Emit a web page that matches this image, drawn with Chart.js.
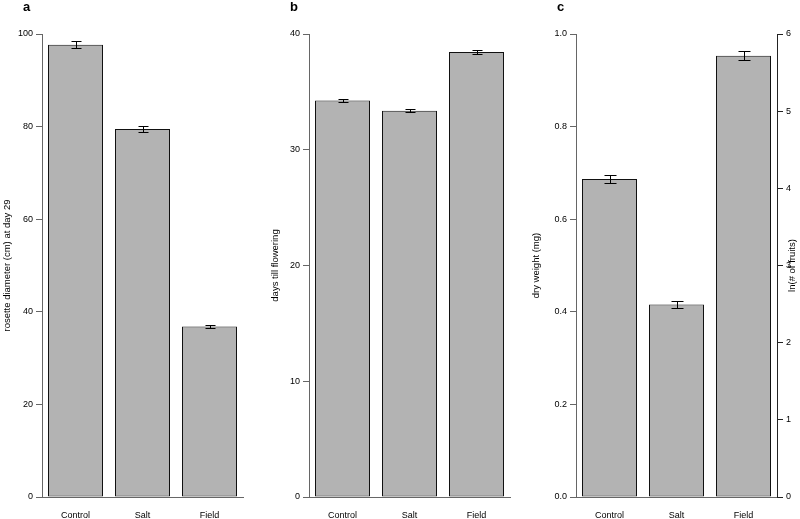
<!DOCTYPE html>
<html>
<head>
<meta charset="utf-8">
<script src="https://cdn.jsdelivr.net/npm/chart.js@4.4.1/dist/chart.umd.min.js"></script>
<style>
  html, body { margin: 0; padding: 0; background: #fff; }
  #wrap { position: relative; width: 800px; height: 519px; }
  #wrap canvas { position: absolute; left: 0; top: 0; }
</style>
</head>
<body>
<div id="wrap">
  <canvas id="panel-a" width="800" height="519"></canvas>
  <canvas id="panel-b" width="800" height="519"></canvas>
  <canvas id="panel-c" width="800" height="519"></canvas>
</div>
<script>
const categories = ['Control', 'Salt', 'Field'];

const rosetteMeans = [97.7, 79.5, 36.8];
const rosetteErr = [0.7, 0.6, 0.4];

const floweringMeans = [34.25, 33.38, 38.45];
const floweringErr = [0.12, 0.1, 0.15];

const dryWeightMeans = [0.687, 0.416, 0.953];
const dryWeightErr = [0.009, 0.008, 0.01];

const FONT = "'Liberation Sans', Arial, Helvetica, sans-serif";

// error bars drawn from dataset.errors
const errorBars = {
  id: 'errorBars',
  afterDatasetsDraw(chart) {
    const ds = chart.data.datasets[0];
    const meta = chart.getDatasetMeta(0);
    const yScale = chart.scales[meta.yAxisID];
    const cap = ds.capWidth || 5;
    const ctx = chart.ctx;
    ctx.save();
    ctx.strokeStyle = '#000';
    ctx.lineWidth = 1;
    meta.data.forEach((bar, i) => {
      const v = ds.data[i];
      const e = ds.errors[i];
      const x = Math.round(bar.x) + 0.5;
      const top = Math.round(yScale.getPixelForValue(v + e)) + 0.5;
      const bot = Math.round(yScale.getPixelForValue(v - e)) + 0.5;
      ctx.beginPath();
      ctx.moveTo(x, top); ctx.lineTo(x, bot);
      ctx.moveTo(x - cap, top); ctx.lineTo(x + cap, top);
      ctx.moveTo(x - cap, bot); ctx.lineTo(x + cap, bot);
      ctx.stroke();
    });
    ctx.restore();
  }
};

// panel letter and axis titles
function panelText(cfg) {
  return {
    id: 'panelText',
    afterDraw(chart) {
      const ctx = chart.ctx;
      const area = chart.chartArea;
      const midY = (area.top + area.bottom) / 2;
      ctx.save();
      ctx.fillStyle = '#000';
      ctx.font = 'bold 13px ' + FONT;
      ctx.textBaseline = 'alphabetic';
      ctx.textAlign = 'left';
      ctx.fillText(cfg.letter, area.left - 19, 11);

      ctx.font = '9.5px ' + FONT;
      ctx.textAlign = 'center';
      ctx.textBaseline = 'middle';
      ctx.translate(cfg.leftTitleX, midY);
      ctx.rotate(-Math.PI / 2);
      ctx.fillText(cfg.leftTitle, 0, 0);
      ctx.restore();

      if (cfg.rightTitle) {
        ctx.save();
        ctx.fillStyle = '#000';
        ctx.font = '9.5px ' + FONT;
        ctx.textAlign = 'center';
        ctx.textBaseline = 'middle';
        ctx.translate(cfg.rightTitleX, midY);
        ctx.rotate(-Math.PI / 2);
        ctx.fillText(cfg.rightTitle, 0, 0);
        ctx.restore();
      }
    }
  };
}

function yAxis(max, step, width, opts) {
  opts = opts || {};
  return {
    position: opts.position || 'left',
    min: 0,
    max: max,
    afterFit: (scale) => { scale.width = width; },
    grid: {
      drawOnChartArea: false,
      drawTicks: true,
      tickLength: 6,
      color: opts.color || '#666',
    },
    border: { color: opts.color || '#666' },
    ticks: {
      stepSize: step,
      padding: 3,
      color: '#000',
      font: { family: FONT, size: 9 },
      callback: opts.fmt || ((v) => v),
    },
  };
}

function makePanel(id, values, errors, cap, padding, scales, text) {
  return new Chart(document.getElementById(id), {
    type: 'bar',
    data: {
      labels: categories,
      datasets: [{
        data: values,
        errors: errors,
        capWidth: cap,
        backgroundColor: '#b3b3b3',
        borderColor: '#111',
        borderWidth: 1,
        borderSkipped: false,
        barPercentage: 55 / 67,
        categoryPercentage: 1,
      }]
    },
    options: {
      responsive: false,
      animation: false,
      devicePixelRatio: 1,
      layout: { padding: padding },
      scales: Object.assign({
        x: {
          afterFit: (scale) => { scale.height = 22; },
          grid: { display: false },
          border: { display: true, color: '#666' },
          ticks: {
            padding: 5,
            color: '#000',
            font: { family: FONT, size: 9 },
          },
        },
      }, scales),
      plugins: {
        legend: { display: false },
        tooltip: { enabled: false },
      },
    },
    plugins: [errorBars, panelText(text)],
  });
}

makePanel('panel-a', rosetteMeans, rosetteErr, 5,
  { left: 0, right: 557, top: 34, bottom: 0 },
  { y: yAxis(100, 20, 42) },
  { letter: 'a', leftTitle: 'rosette diameter (cm) at day 29', leftTitleX: 7.5 });

makePanel('panel-b', floweringMeans, floweringErr, 5,
  { left: 265, right: 290, top: 34, bottom: 0 },
  { y: yAxis(40, 10, 44) },
  { letter: 'b', leftTitle: 'days till flowering', leftTitleX: 275.5 });

makePanel('panel-c', dryWeightMeans, dryWeightErr, 6,
  { left: 530, right: 0, top: 34, bottom: 0 },
  {
    y: yAxis(1, 0.2, 46, { fmt: (v) => v.toFixed(1) }),
    yRight: yAxis(6, 1, 23, { position: 'right', color: '#222' }),
  },
  { letter: 'c', leftTitle: 'dry weight (mg)', leftTitleX: 536,
    rightTitle: 'ln(# of fruits)', rightTitleX: 792 });
</script>
</body>
</html>
